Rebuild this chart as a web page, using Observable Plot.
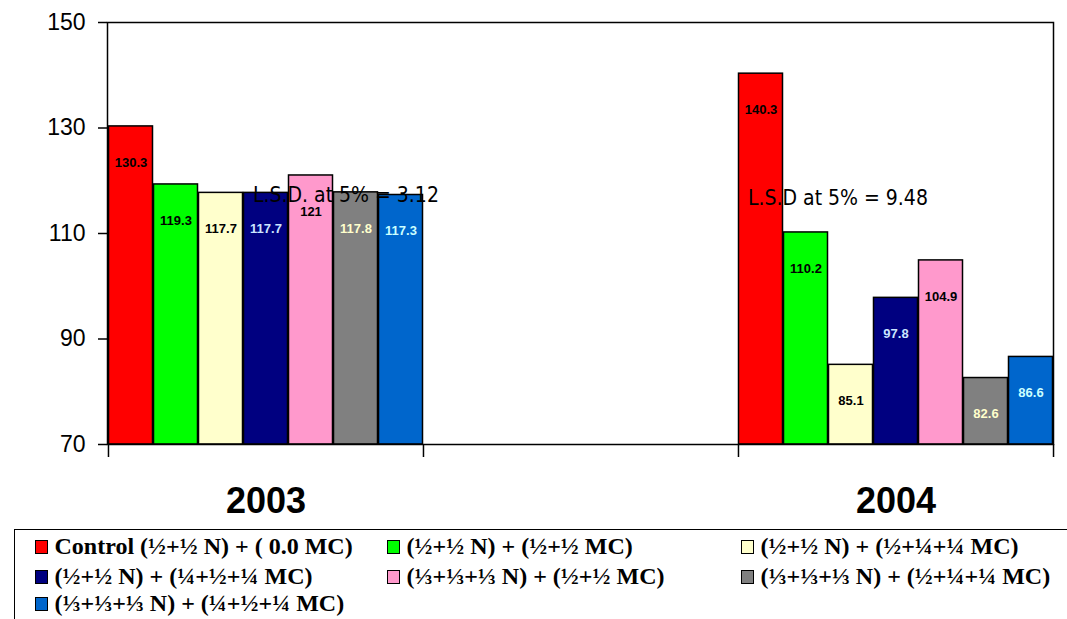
<!DOCTYPE html>
<html><head><meta charset="utf-8">
<script src="https://cdn.jsdelivr.net/npm/d3@7"></script>
<script src="https://cdn.jsdelivr.net/npm/@observablehq/plot@0.6"></script>
<style>
html,body{margin:0;padding:0;background:#fff;}
body{width:1067px;height:619px;overflow:hidden;position:relative;}
#chart svg{display:block;}
#legend{position:absolute;left:14px;top:529px;width:1080px;height:110px;border:1.5px solid #000;box-sizing:border-box;
  font-family:"Liberation Serif","Times New Roman",serif;font-weight:bold;font-size:24px;color:#000;}
.item{position:absolute;display:flex;align-items:center;height:26px;white-space:nowrap;}
.sw{width:11px;height:12px;border:1.5px solid #000;margin-right:7px;flex:none;}
</style></head><body>
<div id="chart"></div>
<div id="legend"></div>
<script>
// ---- data ----
const years = ["2003", "2004"];
const series = [
  "Control (½+½ N) + ( 0.0 MC)",
  "(½+½ N) + (½+½ MC)",
  "(½+½ N) + (½+¼+¼ MC)",
  "(½+½ N) + (¼+½+¼ MC)",
  "(⅓+⅓+⅓ N) + (½+½ MC)",
  "(⅓+⅓+⅓ N) + (½+¼+¼ MC)",
  "(⅓+⅓+⅓ N) + (¼+½+¼ MC)"
];
const values2003 = [130.3, 119.3, 117.7, 117.7, 121, 117.8, 117.3];
const values2004 = [140.3, 110.2, 85.1, 97.8, 104.9, 82.6, 86.6];
const yTicks = [70, 90, 110, 130, 150];
const lsdLabels = ["L.S.D. at 5% = 3.12", "L.S.D at 5% = 9.48"];
const lsdLevels = [117.2, 116.6];

// ---- styles ----
const seriesColors = ["#FF0000", "#00FF00", "#FFFFCC", "#000080", "#FF99CC", "#808080", "#0066CC"];
const labelColors = ["#000000", "#000000", "#000000", "#CCE5FF", "#000000", "#FFFFCC", "#CCFFFF"];

// ---- layout ----
const W = 1067, H = 529, mL = 107, mR = 14, mT = 22, mB = 85;
const groups = [years[0], "gap", years[1]];
const slots = groups.flatMap(g => series.map((_, i) => `${g}|${i}`));
const bw = (W - mL - mR) / slots.length;
const plotH = H - mT - mB;

const rows = [
  ...values2003.map((v, i) => ({year: years[0], i, v})),
  ...values2004.map((v, i) => ({year: years[1], i, v}))
].map(d => ({...d, key: `${d.year}|${d.i}`}));

const lsd = [
  {key: `${years[0]}|3`, y: lsdLevels[0], text: lsdLabels[0]},
  {key: `${years[1]}|0`, y: lsdLevels[1], text: lsdLabels[1]}
];

const chart = Plot.plot({
  width: W, height: H,
  marginLeft: mL, marginRight: mR, marginTop: mT, marginBottom: mB,
  style: {fontFamily: "'Liberation Sans', Arial, sans-serif", background: "#fff", color: "#000", overflow: "visible"},
  x: {domain: slots, padding: 0},
  y: {domain: [yTicks[0], yTicks[yTicks.length - 1]]},
  color: {type: "identity"},
  marks: [
    Plot.barY(rows, {x: "key", y1: yTicks[0], y2: "v", fill: d => seriesColors[d.i], stroke: "#000", strokeWidth: 1.5, insetLeft: 0.5, insetRight: 0.5}),
    Plot.text(rows, {x: "key", y: "v", text: d => String(d.v), dy: 36, fill: d => labelColors[d.i],
      fontWeight: "bold", fontSize: 13, fontFamily: "'Liberation Sans', Arial, sans-serif"}),
    Plot.text(lsd, {x: "key", y: "y", text: "text", textAnchor: "start", dx: -13, fontSize: 21,
      fontFamily: "'DejaVu Sans Condensed', 'DejaVu Sans', sans-serif", fill: "#000"}),
    Plot.frame({stroke: "#000", strokeWidth: 1.5}),
    Plot.axisY({ticks: yTicks, tickSize: 9, tickPadding: 13, fontSize: 23, strokeWidth: 1.5, label: null}),
    Plot.axisX({ticks: [`${years[0]}|3`, `${years[1]}|3`], tickFormat: k => k.split("|")[0], tickSize: 0,
      tickPadding: 43, fontSize: 36, fontWeight: "bold", label: null}),
    Plot.ruleX([`${years[0]}|0`, "gap|0", `${years[1]}|0`], {dx: -bw / 2, insetTop: plotH, insetBottom: -13, stroke: "#000", strokeWidth: 1.5}),
    Plot.ruleX([`${years[1]}|6`], {dx: bw / 2, insetTop: plotH, insetBottom: -13, stroke: "#000", strokeWidth: 1.5})
  ]
});
document.getElementById("chart").appendChild(chart);

// ---- legend ----
const legend = document.getElementById("legend");
const colX = [19.5, 371.5, 725.5];
const rowY = [3.5, 33.5, 60.5];
series.forEach((s, i) => {
  const it = document.createElement("div");
  it.className = "item";
  it.style.left = colX[i % 3] + "px";
  it.style.top = rowY[Math.floor(i / 3)] + "px";
  const sw = document.createElement("span");
  sw.className = "sw";
  sw.style.background = seriesColors[i];
  const t = document.createElement("span");
  t.textContent = s;
  it.appendChild(sw); it.appendChild(t);
  legend.appendChild(it);
});
</script>
</body></html>
